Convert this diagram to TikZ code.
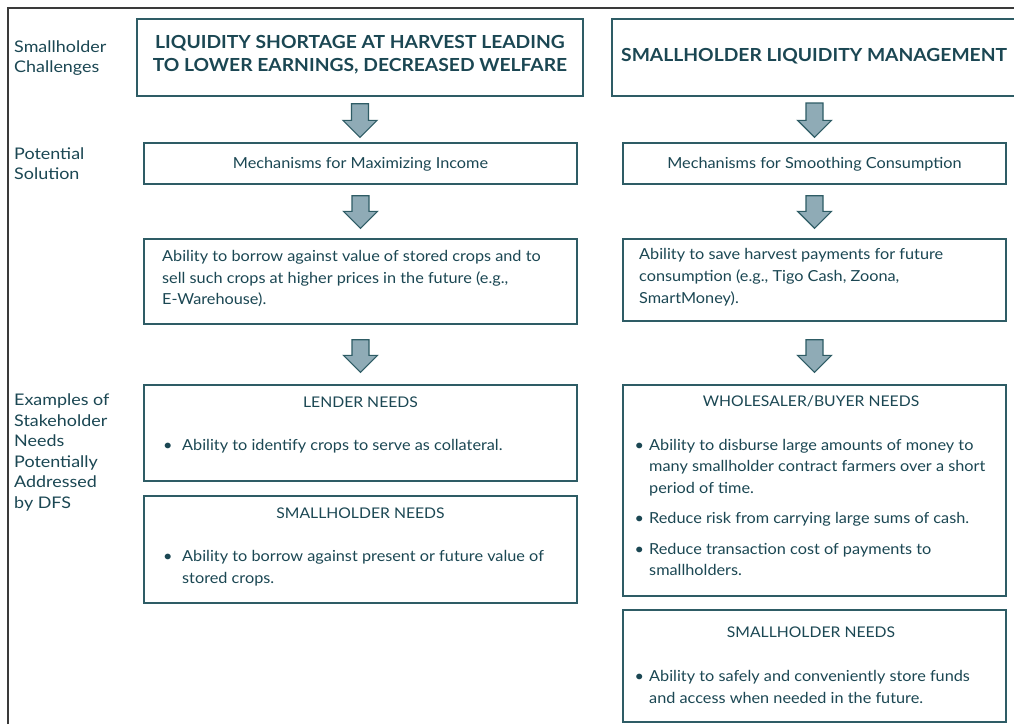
\documentclass[tikz,border=0pt]{standalone}
\usepackage{fontspec}
\setmainfont{Lato}[FakeStretch=1.07]
\newfontfamily\sidefont{Lato}[FakeStretch=1.12]
\usetikzlibrary{calc}
\definecolor{tx}{HTML}{1B4753}
\definecolor{bd}{HTML}{2E5C65}
\definecolor{af}{HTML}{8FABB6}
\definecolor{fr}{HTML}{3A3A3A}
\newcommand\barrow[4]{%
  \draw[blockarrow] let \p1=($(#1.south)+(0,#3)$), \p2=($(#2.north)+(0,-#4)$) in
    (\x1-8.5pt,\y1) -- (\x1+8.5pt,\y1) -- (\x1+8.5pt,\y2+17pt) -- (\x1+17pt,\y2+17pt)
    -- (\x1,\y2) -- (\x1-17pt,\y2+17pt) -- (\x1-8.5pt,\y2+17pt) -- cycle;}
\begin{document}
\begin{tikzpicture}[x=1pt,y=-1pt,
  box/.style={draw=bd,line width=1.3pt,inner sep=0pt,rectangle},
  blockarrow/.style={draw=bd,fill=af,line width=1.2pt,line join=miter},
  txt/.style={text=tx,inner sep=0pt,font=\fontsize{15.2}{18}\selectfont},
  ttl/.style={text=tx,inner sep=0pt,font=\fontsize{18}{20}\selectfont\bfseries},
  side/.style={text=tx,inner sep=0pt,anchor=base west,font=\sidefont\fontsize{16}{18}\selectfont},
  line/.style={txt,anchor=base west},
  ctr/.style={txt,anchor=base},
  captitle/.style={txt,anchor=base,font=\fontsize{14.7}{18}\selectfont},
  bul/.style={txt,anchor=base west}]
\useasboundingbox (0,0) rectangle (1014,724);
\fill[white] (0,0) rectangle (1014,724);
% frame
\draw[fr,line width=1.5pt] (8,724) -- (8,8) -- (1014,8);
% boxes
\node[box,minimum width=446,minimum height=77] (t1) at (360,57.5) {};
\node[box,minimum width=410,minimum height=77] (t2) at (817,57.5) {};
\node[box,minimum width=433,minimum height=41] (m1) at (360.5,163.5) {};
\node[box,minimum width=383,minimum height=41] (m2) at (814.5,163.5) {};
\node[box,minimum width=433,minimum height=85] (a1) at (360.5,281.5) {};
\node[box,minimum width=383,minimum height=82] (a2) at (814.5,280) {};
\node[box,minimum width=433,minimum height=96] (l1) at (360.5,433) {};
\node[box,minimum width=433,minimum height=107] (l2) at (360.5,549.5) {};
\node[box,minimum width=383,minimum height=211] (r1) at (814.5,490.5) {};
\node[box,minimum width=383,minimum height=112] (r2) at (814.5,666) {};
% arrows
\barrow{t1}{m1}{7}{5}
\barrow{m1}{a1}{11}{10}
\barrow{a1}{l1}{15}{12}
\coordinate (t2s) at (814.5,96);
\draw[blockarrow] let \p1=($(t2s)+(0,7)$), \p2=($(m2.north)+(0,-5)$) in
    (\x1-8.5pt,\y1) -- (\x1+8.5pt,\y1) -- (\x1+8.5pt,\y2+17pt) -- (\x1+17pt,\y2+17pt)
    -- (\x1,\y2) -- (\x1-17pt,\y2+17pt) -- (\x1-8.5pt,\y2+17pt) -- cycle;
\barrow{m2}{a2}{11}{10}
\barrow{a2}{r1}{18}{12}
% side labels
\node[side] (s1) at (14,52) {Smallholder};
\node[side] (s2) at (14,72.5) {Challenges};
\node[side] (s3) at (14,159) {Potential};
\node[side] (s4) at (14,179) {Solution};
\node[side] (s5) at (14,405.5) {Examples of};
\node[side] (s6) at (14,426.1) {Stakeholder};
\node[side] (s7) at (14,446.7) {Needs};
\node[side] (s8) at (14,467.3) {Potentially};
\node[side] (s9) at (14,487.9) {Addressed};
\node[side] (s10) at (14,508.5) {by DFS};
% titles
\node[ttl,anchor=base] (tt1) at (360,48.5) {LIQUIDITY SHORTAGE AT HARVEST LEADING};
\node[ttl,anchor=base] (tt2) at (360,71.5) {TO LOWER EARNINGS, DECREASED WELFARE};
\node[ttl,anchor=base west] (tt3) at (621,61.5) {SMALLHOLDER LIQUIDITY MANAGEMENT};
% mechanisms
\node[ctr] (mt1) at (360.5,168) {Mechanisms for Maximizing Income};
\node[ctr] (mt2) at (814.5,168) {Mechanisms for Smoothing Consumption};
% ability boxes
\node[line] (al1) at (162,261.5) {Ability to borrow against value of stored crops and to};
\node[line] (al2) at (162,283.2) {sell such crops at higher prices in the future (e.g.,};
\node[line] (al3) at (162,304.9) {E-Warehouse).};
\node[line] (ar1) at (639,259.5) {Ability to save harvest payments for future};
\node[line] (ar2) at (639,281.3) {consumption (e.g., Tigo Cash, Zoona,};
\node[line] (ar3) at (639,303.1) {SmartMoney).};
% lender needs
\node[captitle] (lt) at (360.5,407) {LENDER NEEDS};
\node[bul] (lb1) at (163,450.5) {•};
\node[line] (ll1) at (182,450.5) {Ability to identify crops to serve as collateral.};
% smallholder needs left
\node[captitle] (st) at (360.5,518.5) {SMALLHOLDER NEEDS};
\node[bul] (sb1) at (163,561.5) {•};
\node[line] (sl1) at (182,561.5) {Ability to borrow against present or future value of};
\node[line] (sl2) at (182,583.3) {stored crops.};
% wholesaler
\node[captitle] (wt) at (811,406.7) {WHOLESALER/BUYER NEEDS};
\node[bul] (wb1) at (634.5,450) {•};
\node[line] (wl1) at (649,450) {Ability to disburse large amounts of money to};
\node[line] (wl2) at (649,471.7) {many smallholder contract farmers over a short};
\node[line] (wl3) at (649,493.4) {period of time.};
\node[bul] (wb2) at (634.5,523.3) {•};
\node[line] (wl4) at (649,523.3) {Reduce risk from carrying large sums of cash.};
\node[bul] (wb3) at (634.5,554) {•};
\node[line] (wl5) at (649,554) {Reduce transaction cost of payments to};
\node[line] (wl6) at (649,575.7) {smallholders.};
% smallholder needs right
\node[captitle] (rt) at (811,637.3) {SMALLHOLDER NEEDS};
\node[bul] (rb1) at (634.5,681.7) {•};
\node[line] (rl1) at (649,681.7) {Ability to safely and conveniently store funds};
\node[line] (rl2) at (649,703.3) {and access when needed in the future.};
\end{tikzpicture}
\end{document}
